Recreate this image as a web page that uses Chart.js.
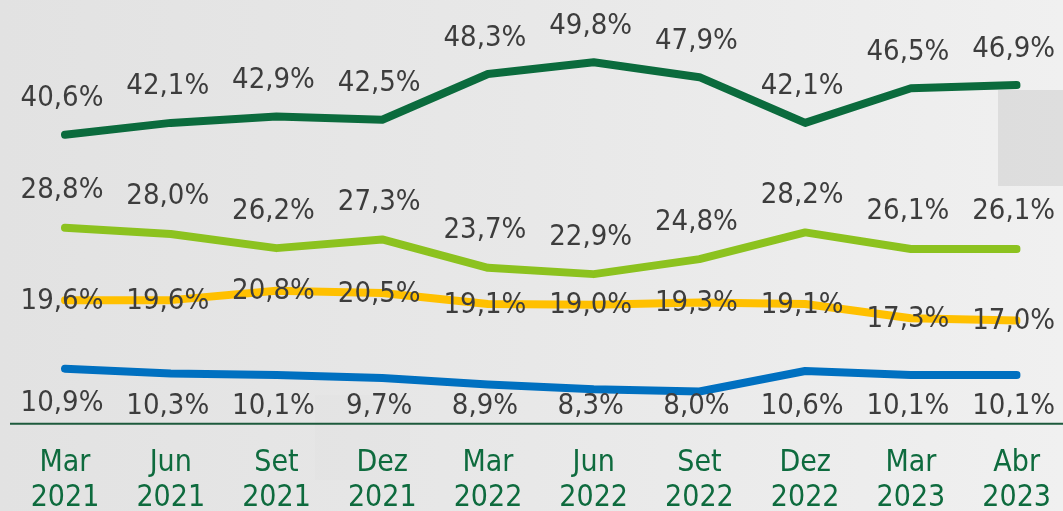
<!DOCTYPE html>
<html>
<head>
<meta charset="utf-8">
<script src="https://cdn.jsdelivr.net/npm/chart.js@4/dist/chart.umd.min.js"></script>
<style>
  html, body { margin: 0; padding: 0; }
  body { width: 1063px; height: 511px; overflow: hidden;
         background: linear-gradient(to right, #e2e2e2 0%, #e8e8e8 50%, #f0f0f0 100%); }
  #wrap { position: relative; width: 1063px; height: 511px; }
</style>
</head>
<body>
<div id="wrap"><canvas id="c" width="1063" height="511"></canvas></div>
<script>
const months = ["Mar", "Jun", "Set", "Dez", "Mar", "Jun", "Set", "Dez", "Mar", "Abr"];
const years  = ["2021", "2021", "2021", "2021", "2022", "2022", "2022", "2022", "2023", "2023"];
const seriesA = [40.6, 42.1, 42.9, 42.5, 48.3, 49.8, 47.9, 42.1, 46.5, 46.9]; // dark green
const seriesB = [28.8, 28.0, 26.2, 27.3, 23.7, 22.9, 24.8, 28.2, 26.1, 26.1]; // light green
const seriesC = [19.6, 19.6, 20.8, 20.5, 19.1, 19.0, 19.3, 19.1, 17.3, 17.0]; // yellow
const seriesD = [10.9, 10.3, 10.1, 9.7, 8.9, 8.3, 8.0, 10.6, 10.1, 10.1];     // blue

const labels = months.map((m, i) => [m, years[i]]);
const fmt = v => v.toFixed(1).replace('.', ',') + '%';
const LABEL_FONT = '29px "DejaVu Sans Condensed", "DejaVu Sans", sans-serif';

const bgPlugin = {
  id: 'bg',
  beforeDraw(chart) {
    const ctx = chart.ctx;
    ctx.save();
    ctx.fillStyle = 'rgba(200,200,200,0.45)';
    ctx.fillRect(998, 90, 65, 96);
    ctx.fillStyle = 'rgba(210,210,210,0.12)';
    ctx.fillRect(315, 395, 95, 85);
    ctx.restore();
  }
};

const axisLine = {
  id: 'axisLine',
  beforeDatasetsDraw(chart) {
    const ctx = chart.ctx;
    const y = chart.chartArea.bottom;
    ctx.save();
    ctx.strokeStyle = '#1d5a3c';
    ctx.lineWidth = 2;
    ctx.beginPath();
    ctx.moveTo(10, y);
    ctx.lineTo(chart.width, y);
    ctx.stroke();
    ctx.restore();
  }
};

const valueLabels = {
  id: 'valueLabels',
  afterDatasetsDraw(chart) {
    const ctx = chart.ctx;
    const maxY = chart.chartArea.bottom - 17;
    ctx.save();
    ctx.font = LABEL_FONT;
    ctx.fillStyle = '#3d3d3d';
    ctx.textAlign = 'center';
    ctx.textBaseline = 'middle';
    chart.data.datasets.forEach((ds, di) => {
      const meta = chart.getDatasetMeta(di);
      meta.data.forEach((pt, i) => {
        const x = pt.x - 3;
        const y = Math.min(pt.y + ds.labelOffset, maxY);
        ctx.fillText(fmt(ds.data[i]), x, y);
      });
    });
    ctx.restore();
  }
};

const common = { borderWidth: 8, pointRadius: 0, pointHoverRadius: 0, fill: false, tension: 0,
                 borderCapStyle: 'round', borderJoinStyle: 'round' };

new Chart(document.getElementById('c'), {
  type: 'line',
  data: {
    labels: labels,
    datasets: [
      Object.assign({ label: 'A', data: seriesA, borderColor: '#0b6b3d', labelOffset: -36 }, common),
      Object.assign({ label: 'B', data: seriesB, borderColor: '#8cc21f', labelOffset: -37 }, common),
      Object.assign({ label: 'C', data: seriesC, borderColor: '#ffc000', labelOffset: 1 }, common),
      Object.assign({ label: 'D', data: seriesD, borderColor: '#0070c0', labelOffset: 35 }, common)
    ]
  },
  options: {
    responsive: false,
    animation: false,
    events: [],
    layout: { padding: { left: 65, right: 40, top: 0, bottom: -17 } },
    plugins: { legend: { display: false }, tooltip: { enabled: false } },
    scales: {
      x: {
        offset: false,
        border: { display: false },
        grid: { display: false, drawTicks: true, tickLength: 10 },
        ticks: {
          padding: 12,
          color: '#0e6b3e',
          maxRotation: 0,
          autoSkip: false,
          font: { family: '"DejaVu Sans Condensed", "DejaVu Sans", sans-serif', size: 30, lineHeight: 1.17 }
        }
      },
      y: {
        display: false,
        min: 3.9,
        max: 57.7
      }
    }
  },
  plugins: [bgPlugin, axisLine, valueLabels]
});
</script>
</body>
</html>
